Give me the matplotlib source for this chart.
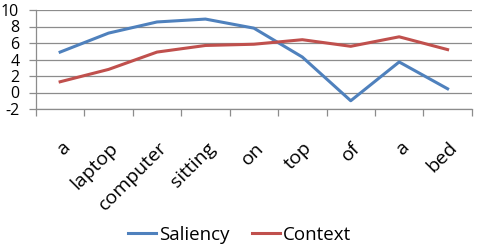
import matplotlib.pyplot as plt
from matplotlib.transforms import ScaledTranslation

words = ["a", "laptop", "computer", "sitting", "on", "top", "of", "a", "bed"]
saliency = [4.9, 7.2, 8.55, 8.9, 7.8, 4.3, -1.0, 3.7, 0.45]
context = [1.3, 2.8, 4.9, 5.7, 5.85, 6.4, 5.6, 6.75, 5.2]
yticks = [-2, 0, 2, 4, 6, 8, 10]

plt.rcParams["font.family"] = ["Open Sans", "DejaVu Sans"]
plt.rcParams["axes.unicode_minus"] = False

fig = plt.figure(figsize=(4.79, 2.5), dpi=100)
ax = fig.add_axes([0.075, 0.564, 0.91, 0.396])

x = list(range(len(words)))
ax.plot(x, saliency, color="#4F81BD", lw=2.2, label="Saliency")
ax.plot(x, context, color="#C0504D", lw=2.2, label="Context")

ax.set_xlim(-0.5, len(words) - 0.5)
ax.set_ylim(-2, 10)
ax.set_yticks(yticks)
ax.yaxis.grid(True, color="#8c8c8c", lw=0.9)
ax.set_axisbelow(True)

ax.set_xticks(x)
ax.set_xticklabels(words, rotation=45, ha="right", va="center",
                   rotation_mode="anchor", fontsize=14)
ax.tick_params(axis="x", length=0, pad=26)
# shift labels a little to the right, as in the original
offset = ScaledTranslation(5 / 72, 0, fig.dpi_scale_trans)
for lab in ax.get_xticklabels():
    lab.set_transform(lab.get_transform() + offset)
ax.set_xticks([i - 0.5 for i in range(len(words) + 1)], minor=True)
ax.tick_params(axis="x", which="minor", length=5, color="#8c8c8c", width=0.9)
ax.tick_params(axis="y", length=5, color="#8c8c8c", width=0.9, labelsize=11.5, pad=7)

for s in ["top", "right"]:
    ax.spines[s].set_visible(False)
for s in ["left", "bottom"]:
    ax.spines[s].set_color("#8c8c8c")
    ax.spines[s].set_linewidth(0.9)

fig.legend(loc="center", bbox_to_anchor=(0.5, 0.06), ncol=2, frameon=False,
           fontsize=13.5, handlelength=1.5, handletextpad=0.15, columnspacing=1.2)

fig.savefig("out.png", dpi=100)
